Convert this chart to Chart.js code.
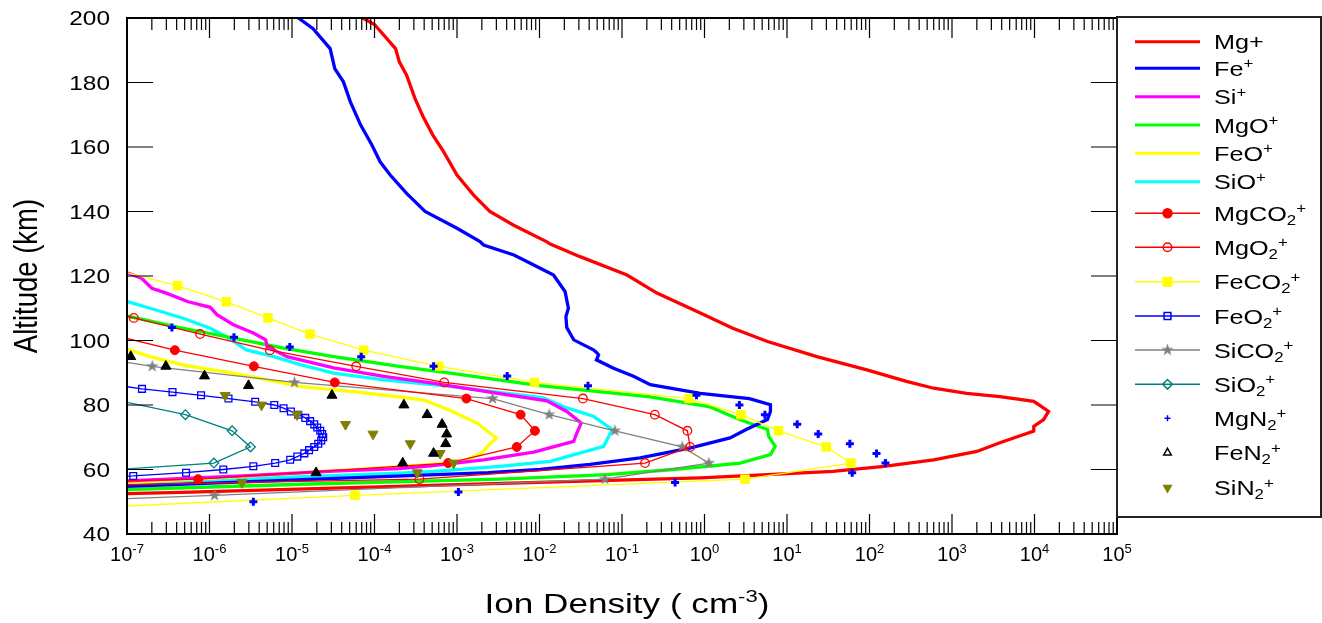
<!DOCTYPE html>
<html>
<head>
<meta charset="utf-8">
<title>Metallic ion density profiles</title>
<script src="https://cdn.jsdelivr.net/npm/chart.js@4.4.1/dist/chart.umd.min.js"></script>
<style>
  html, body { margin: 0; padding: 0; background: #ffffff; }
  #wrap { width: 1322px; height: 623px; position: relative; }
</style>
</head>
<body>
<div id="wrap"><canvas id="chart" width="1322" height="623"></canvas></div>
<script>
// ---------- axis ticks ----------
const ALT_TICKS = [40, 60, 80, 100, 120, 140, 160, 180, 200];
const DECADE_EXPONENTS = [-7, -6, -5, -4, -3, -2, -1, 0, 1, 2, 3, 4, 5];

// ---------- profiles: altitude (km) and ion density (cm^-3) ----------
const mgPlusAlt = [52, 52.5, 53, 54, 55, 56, 57, 57.4, 58.4, 59.4, 61, 63, 65.6, 68.3, 71.9, 73.4, 75.5, 78, 79.8, 81.1, 82.6, 83.6, 85.2, 87.3, 90.9, 95, 99.7, 103.8, 108.5, 114.7, 120.3, 126, 129.9, 130.6, 135.8, 140, 145, 151.3, 158.5, 163.7, 169.3, 175, 182.3, 186.4, 190.5, 198, 200];
const mgPlusDen = [2.0e-8, 1.0e-7, 5.9e-7, 1.5e-5, 3.8e-4, 9.5e-3, 0.25, 0.89, 5.8, 36, 150, 600, 2000, 3800, 9800, 9800, 12900, 14800, 11700, 9800, 3800, 1500, 600, 280, 93, 23, 5.8, 2.2, 0.89, 0.265, 0.115, 0.031, 0.0135, 0.0123, 4.8e-3, 2.5e-3, 1.6e-3, 1.0e-3, 6.9e-4, 5.1e-4, 3.9e-4, 3.1e-4, 2.45e-4, 2.0e-4, 1.8e-4, 1.0e-4, 7.2e-5];

const fePlusAlt = [54.3, 54.8, 56, 57, 58, 59, 60, 61.6, 63.6, 66.7, 69.8, 72.4, 75.5, 78, 80.1, 82, 83.6, 86.3, 88.9, 91.4, 94, 95.5, 96.1, 97.1, 100.2, 104, 107.4, 110, 115.2, 120.3, 122.4, 126.5, 129.6, 130.7, 134.8, 140, 145.6, 151.3, 155.4, 160.6, 166.8, 174, 180.2, 184.3, 190.5, 196.7, 200.3];
const fePlusDen = [2.5e-8, 1.0e-7, 1.8e-6, 1.95e-5, 2.2e-4, 2.4e-3, 0.0102, 0.041, 0.166, 0.68, 2.04, 3.2, 5.8, 6.3, 6.3, 3.5, 0.89, 0.22, 0.138, 0.079, 0.049, 0.052, 0.050, 0.045, 0.026, 0.0214, 0.0209, 0.0224, 0.0204, 0.0148, 0.0102, 4.9e-3, 2.1e-3, 1.9e-3, 1.0e-3, 4.1e-4, 2.45e-4, 1.55e-4, 1.17e-4, 9.3e-5, 6.8e-5, 5.1e-5, 4.2e-5, 3.3e-5, 2.9e-5, 1.8e-5, 1.15e-5];

const siPlusAlt = [56, 56.5, 58, 59.5, 60.3, 61.2, 63, 65.4, 68.7, 71, 74.4, 78, 81.3, 84, 86.8, 88.9, 91.5, 95, 98.1, 100.2, 102.3, 104.9, 108, 110.3, 112.1, 114.7, 116.2, 119.3, 121, 122];
const siPlusDen = [2.5e-8, 1e-7, 2.5e-6, 3.2e-5, 2.0e-4, 5.1e-4, 2.1e-3, 8.5e-3, 0.026, 0.028, 0.032, 0.0214, 0.0123, 2.5e-3, 5.1e-4, 1.3e-4, 3.2e-5, 8.7e-6, 5.0e-6, 4.8e-6, 3.4e-6, 1.95e-6, 1.23e-6, 1.02e-6, 5.4e-7, 3.0e-7, 2.0e-7, 1.5e-7, 1e-7, 4e-8];

const mgoAlt = [53.3, 53.8, 55.5, 57, 58.4, 60, 62, 64.6, 67.2, 70.3, 72.4, 75.4, 79.4, 82.5, 86, 89.9, 92, 95, 97.6, 100.7, 103.8, 107.6, 108.5];
const mgoDen = [2.5e-8, 1e-7, 1.66e-5, 3.3e-3, 0.066, 0.42, 2.7, 6.3, 7.2, 6.0, 5.8, 2.7, 1.17, 0.22, 0.010, 8.3e-4, 2.0e-4, 3.2e-5, 7.9e-6, 1.95e-6, 4.8e-7, 1e-7, 5e-8];

const feoAlt = [55, 55.9, 58, 60.5, 62, 63, 65.1, 67.5, 69.8, 72, 74.4, 76, 78.5, 81.5, 83.7, 85.8, 87.8, 89.9, 92.4, 95, 97.3, 98];
const feoDen = [1e-8, 1e-7, 3.4e-6, 1.26e-4, 7.6e-4, 1.3e-3, 2.0e-3, 2.4e-3, 3.0e-3, 2.3e-3, 1.74e-3, 1.3e-3, 7.9e-4, 4.0e-4, 8.1e-5, 1.26e-5, 5.0e-6, 1.95e-6, 4.8e-7, 1.9e-7, 1e-7, 5e-8];

const sioAlt = [55, 55.9, 57.5, 58.9, 59.4, 61, 62.5, 67.2, 72.4, 76.5, 79.1, 82.2, 85.8, 87.8, 89.9, 92.5, 95, 97.1, 101.2, 103.8, 106.9, 110, 112.1, 113];
const sioDen = [1e-8, 1e-7, 6.3e-6, 2.0e-4, 5.1e-4, 3.3e-3, 0.0135, 0.060, 0.076, 0.045, 0.0214, 0.0112, 8.3e-4, 1.3e-4, 3.2e-5, 1.26e-5, 6.0e-6, 2.8e-6, 1.6e-6, 1.02e-6, 4.8e-7, 1.9e-7, 1e-7, 5e-8];

const mgco2Alt = [52, 57, 62, 67, 72, 77, 82, 87, 92, 97, 102];
const mgco2Den = [1e-15, 7.3e-7, 7.8e-4, 5.3e-3, 8.8e-3, 5.9e-3, 1.3e-3, 3.3e-5, 3.45e-6, 3.8e-7, 6e-8];

const mgo2Alt = [52, 57, 62, 67, 72, 77, 82, 87, 92, 97, 102, 107, 112];
const mgo2Den = [1e-14, 3.5e-4, 0.19, 0.67, 0.62, 0.25, 0.0336, 7.0e-4, 6.0e-5, 5.4e-6, 7.7e-7, 1.21e-7, 2e-8];

const feco2Alt = [47, 52, 57, 62, 67, 72, 77, 82, 87, 92, 97, 102, 107, 112, 117, 122];
const feco2Den = [4e-9, 5.8e-5, 3.1, 59.5, 29.9, 7.9, 2.76, 0.65, 8.7e-3, 6.0e-4, 7.4e-5, 1.65e-5, 5.1e-6, 1.6e-6, 4.1e-7, 7e-8];

const feo2Alt = [57, 58, 59, 60, 61, 62, 63, 64, 65, 66, 67, 68, 69, 70, 71, 72, 73, 74, 75, 76, 77, 78, 79, 80, 81, 82, 83, 84, 85, 86];
const feo2Den = [1e-9, 1.19e-7, 5.2e-7, 1.47e-6, 3.4e-6, 6.25e-6, 9.5e-6, 1.16e-5, 1.41e-5, 1.61e-5, 1.86e-5, 2.08e-5, 2.26e-5, 2.39e-5, 2.32e-5, 2.20e-5, 2.02e-5, 1.86e-5, 1.66e-5, 1.45e-5, 1.19e-5, 9.7e-6, 7.9e-6, 6.1e-6, 3.58e-6, 1.70e-6, 7.9e-7, 3.56e-7, 1.52e-7, 8e-8];

const sico2Alt = [47, 52, 57, 62, 67, 72, 77, 82, 87, 92, 97];
const sico2Den = [1e-11, 1.15e-6, 0.062, 1.13, 0.537, 0.082, 0.0131, 2.69e-3, 1.07e-5, 2.02e-7, 1.1e-8];

const sio2Alt = [57, 62, 67, 72, 77, 82];
const sio2Den = [1.3e-9, 1.13e-6, 3.14e-6, 1.88e-6, 5.1e-7, 6e-8];

const mgn2Alt = [50, 53, 56, 59, 62, 65, 68, 71, 74, 77, 80, 83, 86, 89, 92, 95, 98, 101, 104];
const mgn2Den = [3.4e-6, 1.04e-3, 0.44, 61.7, 156, 121.6, 57.8, 23.9, 13.3, 5.4, 2.65, 0.80, 0.0387, 4.06e-3, 5.2e-4, 6.9e-5, 9.4e-6, 1.98e-6, 3.5e-7];

const fen2Alt = [59, 62, 65, 68, 71, 74, 77, 80, 83, 86, 89, 92, 95];
const fen2Den = [1.96e-5, 2.2e-4, 5.2e-4, 7.3e-4, 7.5e-4, 6.6e-4, 4.35e-4, 2.27e-4, 3.05e-5, 2.97e-6, 8.7e-7, 2.96e-7, 1.11e-7];

const sin2Alt = [56, 59, 62, 65, 68, 71, 74, 77, 80, 83];
const sin2Den = [2.47e-6, 3.3e-4, 9.1e-4, 6.25e-4, 2.71e-4, 9.6e-5, 4.45e-5, 1.15e-5, 4.27e-6, 1.55e-6];

// ---------- styling ----------
const FONT = '"Liberation Sans", Arial, Helvetica, sans-serif';

// filled five-pointed star used as a point marker
function makeStar(size, color) {
  const c = document.createElement('canvas');
  c.width = size; c.height = size;
  const g = c.getContext('2d');
  g.fillStyle = color;
  g.beginPath();
  for (let i = 0; i < 10; i++) {
    const r = (i % 2) ? size * 0.2 : size * 0.5;
    const a = -Math.PI / 2 + i * Math.PI / 5;
    g.lineTo(size / 2 + r * Math.cos(a), size / 2 + r * Math.sin(a));
  }
  g.closePath();
  g.fill();
  return c;
}
const starMarker = makeStar(13, '#808080');

function pts(alt, den) { return alt.map((a, i) => ({ x: den[i], y: a })); }

function thick(label, alt, den, color) {
  return { label, data: pts(alt, den), showLine: true, borderColor: color, backgroundColor: color,
    borderWidth: 3.3, pointRadius: 0, order: 3, kind: 'thick' };
}
function thin(label, alt, den, color, marker) {
  return Object.assign({ label, data: pts(alt, den), showLine: true, borderColor: color,
    backgroundColor: color, borderWidth: 1.3, order: 2, kind: 'thin' }, marker);
}
function dots(label, alt, den, color, marker) {
  return Object.assign({ label, data: pts(alt, den), showLine: false, borderColor: color,
    backgroundColor: color, order: 1, kind: 'dots' }, marker);
}

const datasets = [
  thick('Mg+', mgPlusAlt, mgPlusDen, '#ff0000'),
  thick('Fe^+', fePlusAlt, fePlusDen, '#0000ff'),
  thick('Si^+', siPlusAlt, siPlusDen, '#ff00ff'),
  thick('MgO^+', mgoAlt, mgoDen, '#00ff00'),
  thick('FeO^+', feoAlt, feoDen, '#ffff00'),
  thick('SiO^+', sioAlt, sioDen, '#00ffff'),
  thin('MgCO_2^+', mgco2Alt, mgco2Den, '#ff0000',
    { pointStyle: 'circle', pointRadius: 4.5, pointBackgroundColor: '#ff0000', pointBorderColor: '#ff0000', pointBorderWidth: 1 }),
  thin('MgO_2^+', mgo2Alt, mgo2Den, '#ff0000',
    { pointStyle: 'circle', pointRadius: 4.3, pointBackgroundColor: 'rgba(0,0,0,0)', pointBorderColor: '#ff0000', pointBorderWidth: 1.3 }),
  thin('FeCO_2^+', feco2Alt, feco2Den, '#ffff00',
    { pointStyle: 'rect', pointRadius: 6, pointBackgroundColor: '#ffff00', pointBorderColor: '#ffff00', pointBorderWidth: 1 }),
  thin('FeO_2^+', feo2Alt, feo2Den, '#0000ff',
    { pointStyle: 'rect', pointRadius: 4.8, pointBackgroundColor: 'rgba(0,0,0,0)', pointBorderColor: '#0000ff', pointBorderWidth: 1.3 }),
  thin('SiCO_2^+', sico2Alt, sico2Den, '#808080',
    { pointStyle: starMarker, pointRadius: 6, pointBackgroundColor: '#808080', pointBorderColor: '#808080' }),
  thin('SiO_2^+', sio2Alt, sio2Den, '#008080',
    { pointStyle: 'rectRot', pointRadius: 4.8, pointBackgroundColor: 'rgba(0,0,0,0)', pointBorderColor: '#008080', pointBorderWidth: 1.3 }),
  dots('MgN_2^+', mgn2Alt, mgn2Den, '#0000ff',
    { pointStyle: 'cross', pointRadius: 4, pointBorderWidth: 3, pointBorderColor: '#0000ff', pointBackgroundColor: '#0000ff' }),
  dots('FeN_2^+', fen2Alt, fen2Den, '#000000',
    { pointStyle: 'triangle', pointRadius: 5.8, pointBorderWidth: 1, pointBorderColor: '#000000', pointBackgroundColor: '#000000' }),
  dots('SiN_2^+', sin2Alt, sin2Den, '#808000',
    { pointStyle: 'triangle', rotation: 180, pointRotation: 180, pointRadius: 5.8, pointBorderWidth: 1, pointBorderColor: '#808000', pointBackgroundColor: '#808000' })
];

// ---------- text with sub/superscripts ----------
function parseRich(label) {
  const out = []; let buf = '';
  for (let i = 0; i < label.length; i++) {
    const ch = label[i];
    if ((ch === '_' || ch === '^') && i + 1 < label.length) {
      if (buf) { out.push({ t: buf, k: 'n' }); buf = ''; }
      let t;
      if (label[i + 1] === '{') { const j = label.indexOf('}', i + 2); t = label.slice(i + 2, j); i = j; }
      else { t = label[i + 1]; i++; }
      out.push({ t, k: ch === '_' ? 'sub' : 'sup' });
    } else buf += ch;
  }
  if (buf) out.push({ t: buf, k: 'n' });
  return out;
}
function drawRich(ctx, label, x, y, o) {
  const parts = parseRich(label);
  const fontFor = k => (k === 'n' ? o.size : (k === 'sup' ? o.supSize : o.subSize)) + 'px ' + FONT;
  let w = 0;
  parts.forEach(p => { ctx.font = fontFor(p.k); p.w = ctx.measureText(p.t).width; w += p.w; });
  ctx.save();
  ctx.translate(x, y);
  ctx.scale(o.sx || 1, 1);
  ctx.textAlign = 'left';
  ctx.textBaseline = 'alphabetic';
  ctx.fillStyle = o.color || '#000';
  let cx = o.align === 'center' ? -w / 2 : (o.align === 'right' ? -w : 0);
  parts.forEach(p => {
    ctx.font = fontFor(p.k);
    const dy = p.k === 'sup' ? -o.supRise : (p.k === 'sub' ? o.subDrop : 0);
    ctx.fillText(p.t, cx, dy);
    cx += p.w;
  });
  ctx.restore();
}

// ---------- frame, inward ticks, tick labels and axis titles ----------
const framePlugin = {
  id: 'frame',
  afterDraw(chart) {
    const ctx = chart.ctx, xs = chart.scales.x, ys = chart.scales.y, a = chart.chartArea;
    ctx.save();
    ctx.strokeStyle = '#000';
    ctx.lineWidth = 1.2;
    ctx.beginPath();
    DECADE_EXPONENTS.forEach((e, idx) => {
      const px = xs.getPixelForValue(Math.pow(10, e));
      ctx.moveTo(px, a.bottom); ctx.lineTo(px, a.bottom - 20);
      ctx.moveTo(px, a.top); ctx.lineTo(px, a.top + 20);
      if (idx < DECADE_EXPONENTS.length - 1) {
        for (let m = 2; m <= 9; m++) {
          const mx = xs.getPixelForValue(m * Math.pow(10, e));
          ctx.moveTo(mx, a.bottom); ctx.lineTo(mx, a.bottom - 12);
          ctx.moveTo(mx, a.top); ctx.lineTo(mx, a.top + 12);
        }
      }
    });
    ALT_TICKS.forEach(v => {
      const py = ys.getPixelForValue(v);
      ctx.moveTo(a.left, py); ctx.lineTo(a.left + 26, py);
      ctx.moveTo(a.right, py); ctx.lineTo(a.right - 26, py);
    });
    ctx.stroke();

    ctx.lineWidth = 2;
    ctx.strokeRect(a.left, a.top, a.right - a.left, a.bottom - a.top);

    // altitude tick labels
    ALT_TICKS.forEach(v => {
      const py = ys.getPixelForValue(v);
      drawRich(ctx, String(v), a.left - 17, py + 7, { size: 20, sx: 1.22, align: 'right' });
    });
    // density tick labels as powers of ten
    DECADE_EXPONENTS.forEach(e => {
      const px = xs.getPixelForValue(Math.pow(10, e));
      drawRich(ctx, '10^{' + e + '}', px, a.bottom + 27,
        { size: 20, supSize: 13, supRise: 8, sx: 1.0, align: 'center' });
    });
    // axis titles
    drawRich(ctx, 'Ion Density ( cm^{-3})', (a.left + a.right) / 2 + 5, 613,
      { size: 27, supSize: 17, supRise: 11, sx: 1.3, align: 'center' });
    ctx.save();
    ctx.translate(37, (a.top + a.bottom) / 2);
    ctx.scale(1.2, 1);
    ctx.rotate(-Math.PI / 2);
    ctx.font = '27.5px ' + FONT;
    ctx.fillStyle = '#000';
    ctx.textAlign = 'center';
    ctx.textBaseline = 'alphabetic';
    ctx.fillText('Altitude (km)', 0, 0);
    ctx.restore();
    ctx.restore();
  }
};

// ---------- legend box with line samples and markers ----------
const LEGEND_ROWS = [41.7, 68.3, 96.7, 125, 153.3, 181.7, 213.3, 247.3, 281.7, 316, 350, 384.3, 418.3, 452.7, 487.7];
const legendPlugin = {
  id: 'ionLegend',
  afterDraw(chart) {
    const ctx = chart.ctx;
    ctx.save();
    ctx.strokeStyle = '#222';
    ctx.lineWidth = 2;
    ctx.strokeRect(1117, 17, 204, 500);
    chart.data.datasets.forEach((ds, i) => {
      const y = LEGEND_ROWS[i];
      if (ds.kind !== 'dots') {
        ctx.beginPath();
        ctx.strokeStyle = ds.borderColor;
        ctx.lineWidth = ds.kind === 'thick' ? 3 : 1.5;
        ctx.moveTo(1135, y); ctx.lineTo(1200, y);
        ctx.stroke();
      }
      if (ds.kind !== 'thick') {
        let radius = ds.pointRadius, fill = ds.pointBackgroundColor;
        const isFeN = ds.label.startsWith('FeN');
        if (ds.kind === 'dots') {
          radius = radius * 0.75;
          if (isFeN) fill = 'rgba(0,0,0,0)';
        }
        ctx.fillStyle = fill;
        ctx.strokeStyle = ds.pointBorderColor;
        Chart.helpers.drawPoint(ctx, {
          pointStyle: ds.pointStyle, radius, rotation: ds.pointRotation || 0,
          borderWidth: isFeN ? 1.6 : (ds.pointBorderWidth || 1)
        }, 1167.5, y);
      }
      drawRich(ctx, ds.label, 1214, y + 7.5,
        { size: 21, subSize: 14, supSize: 14, supRise: 7.5, subDrop: 4, sx: 1.2, align: 'left' });
    });
    ctx.restore();
  }
};

new Chart(document.getElementById('chart'), {
  type: 'scatter',
  data: { datasets },
  options: {
    responsive: false,
    animation: false,
    devicePixelRatio: 1,
    events: [],
    layout: { padding: { left: 127, right: 205, top: 18, bottom: 89 } },
    plugins: { legend: { display: false }, tooltip: { enabled: false } },
    elements: { line: { tension: 0 } },
    scales: {
      x: { type: 'logarithmic', min: 1e-7, max: 1e5, display: false },
      y: { type: 'linear', min: 40, max: 200, display: false }
    }
  },
  plugins: [framePlugin, legendPlugin]
});
</script>
</body>
</html>
